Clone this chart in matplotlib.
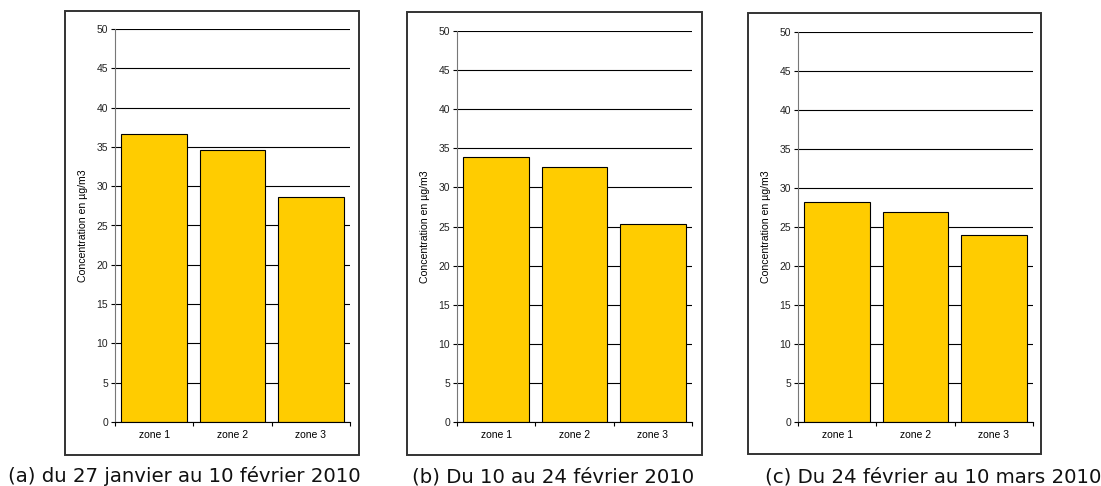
import matplotlib.pyplot as plt
from matplotlib.patches import Rectangle

zones = ['zone 1', 'zone 2', 'zone 3']
periode_a = [36.6, 34.6, 28.6]
periode_b = [33.9, 32.6, 25.3]
periode_c = [28.2, 26.9, 24.0]
titres = ['(a) du 27 janvier au 10 février 2010',
          '(b) Du 10 au 24 février 2010',
          '(c) Du 24 février au 10 mars 2010']
yticks = [0, 5, 10, 15, 20, 25, 30, 35, 40, 45, 50]

W, H = 1101, 486
# cadres (x0, y0, x1, y1) et axes en pixels depuis le haut
cadres = [(65, 11, 359, 455), (407, 12, 702, 455), (748, 13, 1041, 454)]
axes_px = [(115, 29, 350, 422), (457, 31, 692, 422), (798, 32, 1033, 422)]
gauche_titre = [8, 412, 765]


def draw_panel(fig, data, cadre, box, titre, xl):
    x0, y0, x1, y1 = cadre
    fig.patches.append(Rectangle((x0 / W, 1 - y1 / H), (x1 - x0) / W, (y1 - y0) / H,
                                 transform=fig.transFigure, fill=False,
                                 edgecolor='#333333', linewidth=1.4))
    l, t, r, b = box
    ax = fig.add_axes([l / W, 1 - b / H, (r - l) / W, (b - t) / H])
    ax.set_axisbelow(True)
    ax.yaxis.grid(True, color='black', linewidth=0.8)
    ax.bar(range(len(zones)), data, width=0.84, color='#FFCC00',
           edgecolor='black', linewidth=0.8)
    ax.set_xlim(-0.5, 2.5)
    ax.set_ylim(0, 50)
    ax.set_yticks(yticks)
    ax.set_xticks([0, 1, 2])
    ax.set_xticklabels(zones, fontsize=7.5, family='Liberation Sans')
    ax.set_xticks([-0.5, 0.5, 1.5, 2.5], minor=True)
    ax.tick_params(axis='x', which='major', length=0, pad=6)
    ax.tick_params(axis='x', which='minor', length=3, direction='out', width=0.8)
    ax.tick_params(axis='y', length=3, direction='out', width=0.8, pad=2,
                   labelsize=7.5, labelcolor='#222222')
    for lbl in ax.get_yticklabels():
        lbl.set_family('Liberation Sans')
    ax.spines['top'].set_visible(False)
    ax.spines['right'].set_visible(False)
    ax.spines['left'].set_color('#777777')
    ax.spines['bottom'].set_color('black')
    ax.set_ylabel('Concentration en µg/m3', fontsize=7.6, family='Liberation Sans',
                  labelpad=6)
    fig.text(xl / W, 1 - 482 / H, titre, ha='left', va='baseline',
             fontsize=14.2, family='DejaVu Sans', color='#111111')


def main():
    fig = plt.figure(figsize=(W / 100, H / 100), dpi=100)
    for data, cadre, box, titre, xl in zip([periode_a, periode_b, periode_c],
                                          cadres, axes_px, titres, gauche_titre):
        draw_panel(fig, data, cadre, box, titre, xl)
    fig.savefig('out.png', dpi=100)
    plt.close(fig)


if __name__ == '__main__':
    main()
